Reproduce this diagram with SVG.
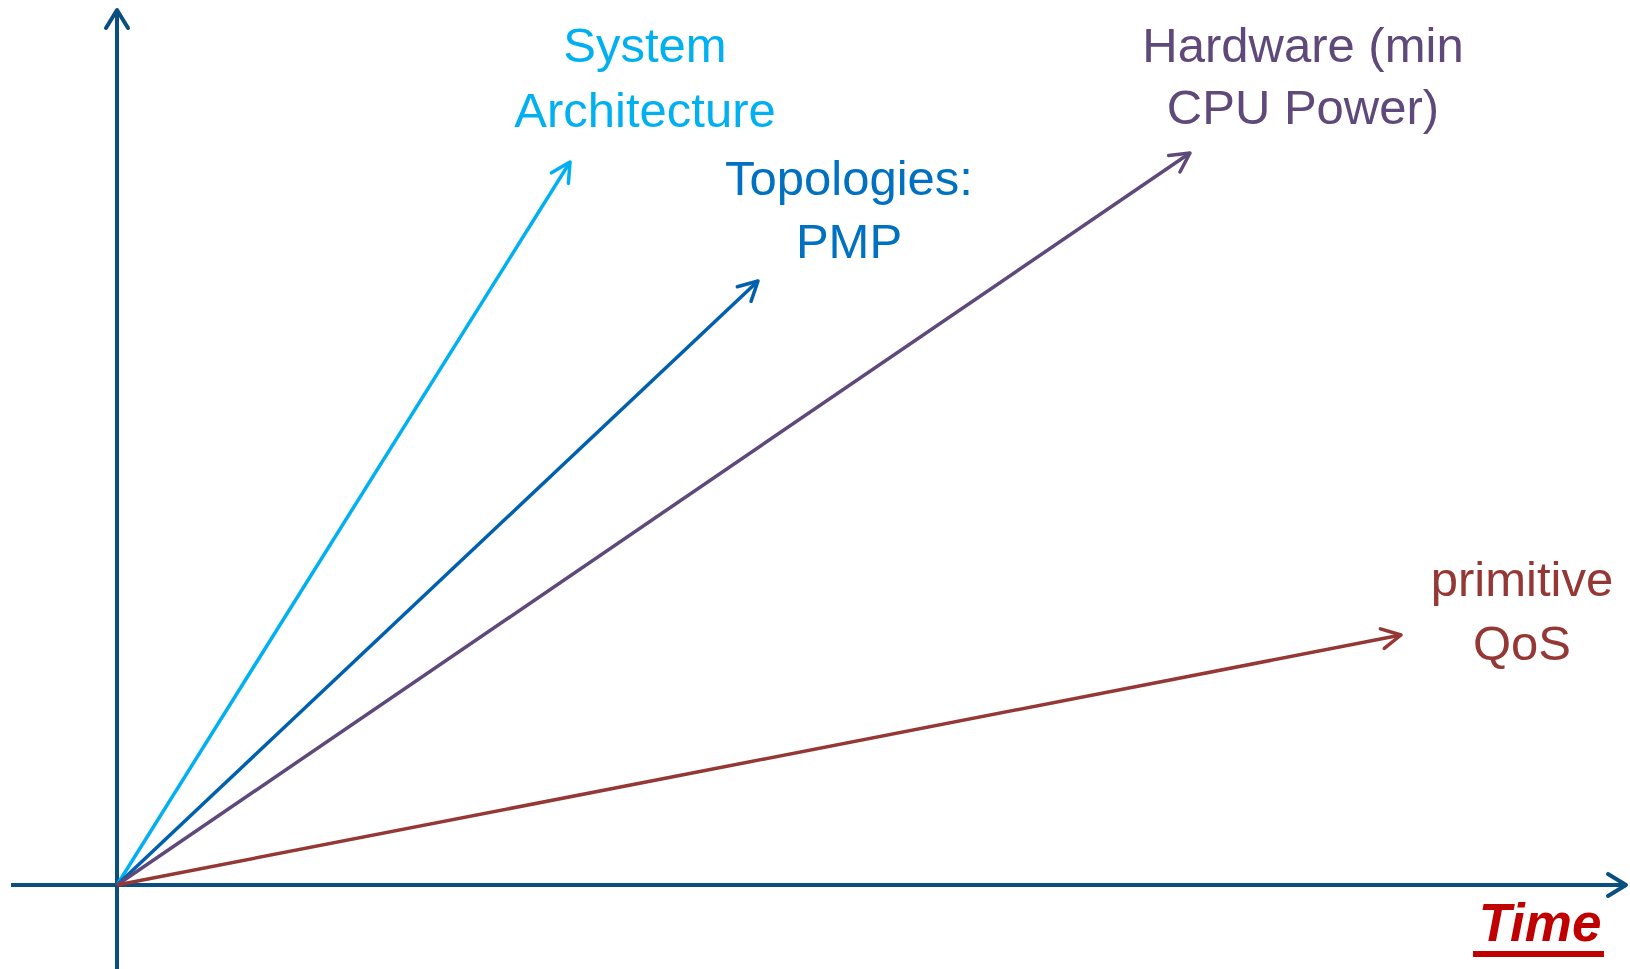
<svg xmlns="http://www.w3.org/2000/svg" width="1630" height="969" viewBox="0 0 1630 969">
<style>
.lbl{font-family:"Liberation Sans",Arial,sans-serif;font-size:49px;text-anchor:middle}
.ax{stroke:#0B4F80;stroke-width:4;fill:none}
.ray{stroke-width:3.5;fill:none}
</style>
<defs>
<marker id="mAx" markerUnits="userSpaceOnUse" viewBox="-26 -16 32 32" markerWidth="32" markerHeight="32" refX="0" refY="0" orient="auto"><path d="M-18,-11 L0,0 L-18,11" fill="none" stroke="#0B4F80" stroke-width="4" stroke-linecap="round" stroke-linejoin="round"/></marker>
<marker id="mSys" markerUnits="userSpaceOnUse" viewBox="-26 -16 32 32" markerWidth="32" markerHeight="32" refX="0" refY="0" orient="auto"><path d="M-19,-10 L0,0 L-19,10" fill="none" stroke="#00B0F0" stroke-width="3.5" stroke-linecap="round" stroke-linejoin="round"/></marker>
<marker id="mTop" markerUnits="userSpaceOnUse" viewBox="-26 -16 32 32" markerWidth="32" markerHeight="32" refX="0" refY="0" orient="auto"><path d="M-19,-10 L0,0 L-19,10" fill="none" stroke="#0060AE" stroke-width="3.5" stroke-linecap="round" stroke-linejoin="round"/></marker>
<marker id="mHw" markerUnits="userSpaceOnUse" viewBox="-26 -16 32 32" markerWidth="32" markerHeight="32" refX="0" refY="0" orient="auto"><path d="M-19,-10 L0,0 L-19,10" fill="none" stroke="#5F497A" stroke-width="3.5" stroke-linecap="round" stroke-linejoin="round"/></marker>
<marker id="mQos" markerUnits="userSpaceOnUse" viewBox="-26 -16 32 32" markerWidth="32" markerHeight="32" refX="0" refY="0" orient="auto"><path d="M-19,-10 L0,0 L-19,10" fill="none" stroke="#953735" stroke-width="3.5" stroke-linecap="round" stroke-linejoin="round"/></marker>
</defs>
<rect width="1630" height="969" fill="#ffffff"/>
<g id="connectors">
<line class="ax" x1="117" y1="969" x2="117" y2="10" marker-end="url(#mAx)"/>
<line class="ax" x1="11" y1="885" x2="1626" y2="885" marker-end="url(#mAx)"/>
<line class="ray" stroke="#00B0F0" x1="117" y1="885" x2="570" y2="162" marker-end="url(#mSys)"/>
<line class="ray" stroke="#0060AE" x1="117" y1="885" x2="758" y2="281" marker-end="url(#mTop)"/>
<line class="ray" stroke="#5F497A" x1="117" y1="885" x2="1190" y2="153" marker-end="url(#mHw)"/>
<line class="ray" stroke="#953735" x1="117" y1="885" x2="1401" y2="635" marker-end="url(#mQos)"/>
</g>
<g id="system-architecture">
<text class="lbl" fill="#00B0F0" x="645" y="62">System</text>
<text class="lbl" fill="#00B0F0" x="645" y="127">Architecture</text>
</g>
<g id="topologies">
<text class="lbl" fill="#0070C0" x="849" y="195">Topologies:</text>
<text class="lbl" fill="#0070C0" x="849" y="258">PMP</text>
</g>
<g id="hardware">
<text class="lbl" fill="#5F497A" x="1303" y="62">Hardware (min</text>
<text class="lbl" fill="#5F497A" x="1303" y="124">CPU Power)</text>
</g>
<g id="qos">
<text class="lbl" fill="#953735" x="1522" y="596">primitive</text>
<text class="lbl" fill="#953735" x="1522" y="660">QoS</text>
</g>
<g id="time">
<text x="1540" y="941" fill="#C00000" font-family="'Liberation Sans',Arial,sans-serif" font-size="53" font-weight="bold" font-style="italic" text-anchor="middle">Time</text>
<rect x="1473" y="951" width="131" height="6" fill="#C00000"/>
</g>
</svg>
